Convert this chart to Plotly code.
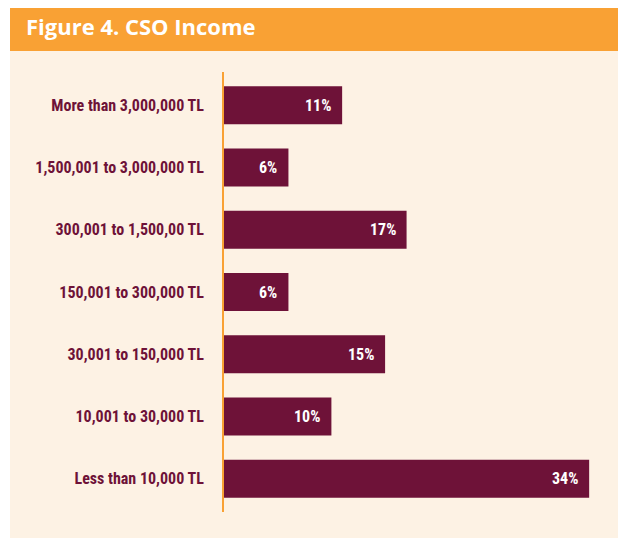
import plotly.graph_objects as go

categories = [
    "More than 3,000,000 TL",
    "1,500,001 to 3,000,000 TL",
    "300,001 to 1,500,00 TL",
    "150,001 to 300,000 TL",
    "30,001 to 150,000 TL",
    "10,001 to 30,000 TL",
    "Less than 10,000 TL",
]
values = [11, 6, 17, 6, 15, 10, 34]
value_labels = ["11%", "6%", "17%", "6%", "15%", "10%", "34%"]

# page body adds an 8px offset; figure coordinates are shifted to compensate
OFF = 8
W, H = 626, 538
L, R, T, B = 224 - OFF, 18, 72 - OFF, 34
pw, ph = W - L - R, H - T - B

MAROON = "#6E1238"
ORANGE = "#F9A134"
CREAM = "#FDF2E4"
LABEL_FONT = "Roboto Condensed, Noto Sans Condensed, DejaVu Sans Condensed, Liberation Sans Narrow, Roboto, sans-serif"

def px_x(p):
    return (p - OFF - L) / pw

def px_y(p):
    return (H - B - (p - OFF)) / ph

fig = go.Figure(
    go.Bar(
        x=values,
        y=categories,
        orientation="h",
        marker=dict(color=MAROON, line=dict(width=0)),
        width=0.61,
        hoverinfo="skip",
    )
)

for v, c, t in zip(values, categories, value_labels):
    fig.add_annotation(
        x=v, y=c, xref="x", yref="y", text="<b>" + t + "</b>",
        showarrow=False, xanchor="right", xshift=-9,
        font=dict(family=LABEL_FONT, size=16, color="white"),
    )

fig.add_shape(type="rect", xref="paper", yref="paper",
              x0=px_x(10), x1=px_x(640), y0=px_y(560), y1=px_y(51),
              fillcolor=CREAM, line=dict(width=0), layer="below")
fig.add_shape(type="rect", xref="paper", yref="paper",
              x0=px_x(10), x1=px_x(640), y0=px_y(51), y1=px_y(3),
              fillcolor=ORANGE, line=dict(width=0), layer="below")

fig.update_layout(
    width=W, height=H,
    margin=dict(l=L, r=R, t=T, b=B, autoexpand=False),
    paper_bgcolor="white",
    plot_bgcolor="rgba(0,0,0,0)",
    showlegend=False,
    title=dict(
        text="<b>Figure 4. CSO Income</b>",
        x=(26 - OFF) / W, xanchor="left", xref="container",
        y=1 - (27 - OFF) / H, yanchor="middle", yref="container",
        font=dict(family="Open Sans, sans-serif", size=22, color="white"),
    ),
    xaxis=dict(range=[0, pw / 10.74], visible=False, fixedrange=True),
    yaxis=dict(
        categoryorder="array", categoryarray=categories[::-1],
        range=[-0.535, 6.535], automargin=False,
        showline=True, linecolor=ORANGE, linewidth=2,
        showgrid=False, zeroline=False, ticks="",
        ticklabelstandoff=15,
        tickfont=dict(family=LABEL_FONT, size=16, color=MAROON),
        tickprefix="<b>", ticksuffix="</b>",
        fixedrange=True,
    ),
)

fig.write_html("out.html")
